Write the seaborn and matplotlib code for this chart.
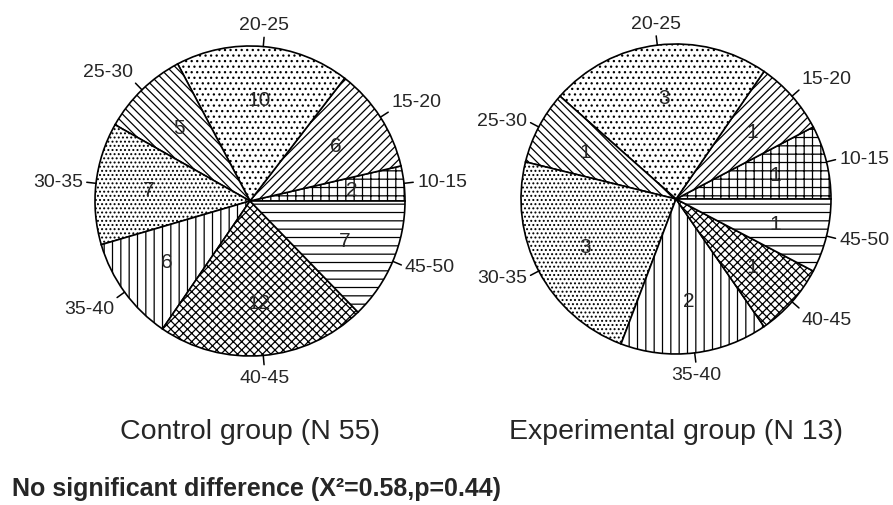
import numpy as np
import matplotlib
matplotlib.use("Agg")
import matplotlib.pyplot as plt
import seaborn as sns

# age groups, in the order the slices run (counter-clockwise from 3 o'clock)
age_groups = ["10-15", "15-20", "20-25", "25-30", "30-35", "35-40", "40-45", "45-50"]
control_counts = [2, 6, 10, 5, 7, 6, 12, 7]
experimental_counts = [1, 1, 3, 1, 3, 2, 1, 1]
group_titles = ["Control group (N 55)", "Experimental group (N 13)"]
footnote = "No significant difference (X\u00b2=0.58,p=0.44)"

# diagonal hatches are half as dense as straight ones for the same count
hatches = ["++", "////", "...", "\\\\\\\\", "....", "||", "xxxx", "--"]

sns.set_theme(style="white")
plt.rcParams["font.family"] = ["Liberation Sans", "DejaVu Sans"]
plt.rcParams["hatch.linewidth"] = 0.9
plt.rcParams["hatch.color"] = "black"

W, H = 893, 506
R = 155                 # pie radius in pixels
half = 1.45 * R         # half size of each axes in pixels
centers = [(250, 202), (676, 200)]

fig = plt.figure(figsize=(W / 100, H / 100), dpi=100)


def draw_pie(ax, counts):
    wedges, _ = ax.pie(counts, startangle=0, counterclock=True,
                       colors=["white"] * len(counts), hatch=hatches,
                       wedgeprops=dict(edgecolor="black", linewidth=1.2))
    for w, n, lab in zip(wedges, counts, age_groups):
        ang = np.deg2rad((w.theta1 + w.theta2) / 2)
        c, s = np.cos(ang), np.sin(ang)
        # count inside the slice
        ax.text(0.66 * c, 0.66 * s, str(n), ha="center", va="center", fontsize=15)
        # leader line + age label outside
        ax.plot([c, 1.06 * c], [s, 1.06 * s], color="black", lw=1.1)
        ha = "left" if c > 0.25 else ("right" if c < -0.25 else "center")
        va = "bottom" if s > 0.5 else ("top" if s < -0.5 else "center")
        ax.text(1.085 * c, 1.085 * s, lab, ha=ha, va=va, fontsize=14)
    ax.set_xlim(-1.45, 1.45)
    ax.set_ylim(-1.45, 1.45)


for (cx, cy), counts, title in zip(centers, [control_counts, experimental_counts], group_titles):
    ax = fig.add_axes([(cx - half) / W, (H - cy - half) / H, 2 * half / W, 2 * half / H])
    ax.patch.set_alpha(0)
    draw_pie(ax, counts)
    fig.text(cx / W, 1 - 432 / H, title, ha="center", va="center", fontsize=20.5)

fig.text(12 / W, 1 - 489 / H, footnote, ha="left", va="center", fontsize=18, fontweight="bold")

fig.savefig("out.png", dpi=100)
